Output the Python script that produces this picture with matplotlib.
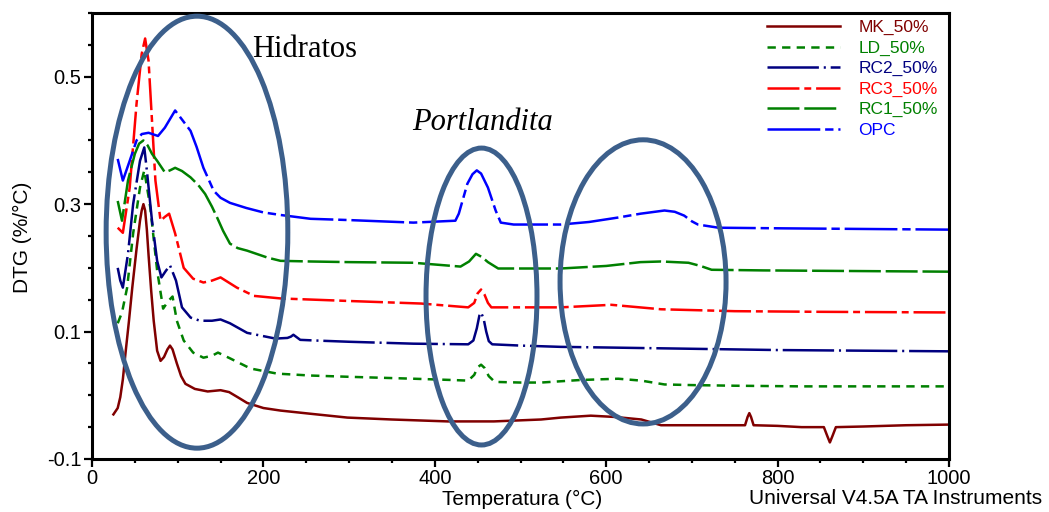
import matplotlib
matplotlib.use("Agg")
import matplotlib.pyplot as plt
from matplotlib.patches import Ellipse
from matplotlib.ticker import MultipleLocator

plt.rcParams['font.family'] = ['Liberation Sans', 'DejaVu Sans']
plt.rcParams['lines.scale_dashes'] = False

# ---------------- data ----------------
mk_t = [25, 30, 33, 36, 39, 43, 47, 52, 56, 58, 60, 62, 64, 66, 69, 72, 76, 80, 84, 88, 91, 94, 99, 104, 109,
        120, 135, 150, 160, 170, 181, 200, 220, 255, 298, 350, 415, 469, 524, 547, 582, 610, 641, 664, 700,
        740, 762, 765, 767, 769, 772, 800, 828, 854, 858, 861, 864, 868, 900, 950, 1000]
mk_v = [-0.030, -0.020, -0.003, 0.025, 0.065, 0.115, 0.169, 0.230, 0.274, 0.290, 0.300, 0.290, 0.260, 0.220,
        0.165, 0.117, 0.070, 0.054, 0.060, 0.072, 0.078, 0.072, 0.050, 0.030, 0.018,
        0.010, 0.006, 0.008, 0.005, -0.003, -0.012, -0.020, -0.024, -0.029, -0.035, -0.038, -0.041, -0.041,
        -0.038, -0.035, -0.032, -0.034, -0.038, -0.047, -0.047,
        -0.047, -0.047, -0.034, -0.028, -0.034, -0.047, -0.048, -0.050, -0.050, -0.064, -0.074, -0.064,
        -0.050, -0.049, -0.047, -0.046]

ld_t = [30, 35, 41, 48, 56, 61, 68, 76, 83, 89, 94, 99, 107, 118, 130, 140, 147, 161, 185, 216, 255, 300,
        375, 420, 439, 446, 450, 454, 458, 463, 470, 500, 524, 570, 614, 641, 668, 700, 750, 828, 900, 1000]
ld_v = [0.113, 0.130, 0.169, 0.254, 0.326, 0.353, 0.295, 0.196, 0.136, 0.148, 0.155, 0.117, 0.086, 0.067,
        0.059, 0.062, 0.067, 0.058, 0.042, 0.034, 0.031, 0.029,
        0.026, 0.024, 0.023, 0.032, 0.044, 0.048, 0.043, 0.030, 0.021, 0.020, 0.020, 0.024, 0.026, 0.023,
        0.017, 0.016, 0.015, 0.014, 0.014, 0.014]

rc2_t = [30, 33, 36, 42, 48, 56, 61, 64, 70, 76, 81, 86, 91, 98, 105, 115, 126, 140, 150, 161, 181, 214,
         228, 232, 235, 238, 243, 260, 300, 375, 439, 445, 449, 452, 454, 457, 460, 463, 467, 500, 547, 600,
         700, 800, 900, 1000]
rc2_v = [0.200, 0.180, 0.169, 0.222, 0.300, 0.368, 0.389, 0.353, 0.274, 0.211, 0.185, 0.195, 0.204, 0.180,
         0.138, 0.122, 0.117, 0.117, 0.119, 0.113, 0.098, 0.089,
         0.090, 0.092, 0.095, 0.092, 0.087, 0.086, 0.084, 0.081, 0.080, 0.086, 0.105, 0.125, 0.130, 0.120,
         0.100, 0.085, 0.080, 0.078, 0.076, 0.075, 0.073, 0.071, 0.070, 0.069]

rc3_t = [30, 36, 44, 52, 58, 62, 66, 70, 74, 80, 85, 90, 97, 107, 118, 130, 140, 150, 169, 189, 220, 300,
         384, 439, 446, 450, 454, 458, 462, 466, 547, 606, 664, 750, 850, 1000]
rc3_v = [0.263, 0.255, 0.326, 0.458, 0.536, 0.560, 0.525, 0.431, 0.337, 0.274, 0.280, 0.285, 0.254, 0.200,
         0.183, 0.177, 0.180, 0.185, 0.169, 0.156, 0.152, 0.148,
         0.144, 0.138, 0.145, 0.160, 0.166, 0.158, 0.145, 0.138, 0.138, 0.142, 0.135, 0.132, 0.131, 0.130]

rc1_t = [30, 35, 42, 50, 55, 60, 65, 70, 76, 85, 91, 97, 105, 115, 124, 132, 140, 146, 153, 161, 170, 181,
         205, 220, 255, 300, 375, 430, 440, 448, 455, 462, 474, 500, 547, 600, 640, 664, 696, 710, 723, 783,
         1000]
rc1_v = [0.305, 0.274, 0.337, 0.379, 0.395, 0.400, 0.392, 0.379, 0.368, 0.350, 0.353, 0.357, 0.352, 0.342,
         0.330, 0.316, 0.296, 0.279, 0.258, 0.238, 0.231, 0.227,
         0.216, 0.211, 0.210, 0.209, 0.208, 0.202, 0.210, 0.222, 0.217, 0.209, 0.199, 0.199, 0.199, 0.203,
         0.209, 0.210, 0.208, 0.203, 0.197, 0.196, 0.194]

opc_t = [30, 36, 44, 52, 58, 66, 77, 85, 97, 106, 115, 122, 130, 142, 150, 161, 180, 200, 220, 255, 300,
         375, 424, 428, 438, 444, 449, 454, 462, 471, 477, 492, 547, 580, 614, 640, 668, 680, 691, 700, 707,
         731, 808, 1000]
opc_v = [0.371, 0.337, 0.368, 0.400, 0.410, 0.412, 0.407, 0.420, 0.447, 0.431, 0.415, 0.390, 0.357, 0.321,
         0.310, 0.302, 0.294, 0.287, 0.283, 0.277, 0.275,
         0.271, 0.274, 0.285, 0.332, 0.347, 0.353, 0.348, 0.326, 0.290, 0.271, 0.268, 0.268, 0.272, 0.279,
         0.285, 0.290, 0.288, 0.282, 0.273, 0.268, 0.263, 0.262, 0.260]

series_labels = ['MK_50%', 'LD_50%', 'RC2_50%', 'RC3_50%', 'RC1_50%', 'OPC']

# ---------------- figure ----------------
W, H = 1049, 512
fig = plt.figure(figsize=(W / 100, H / 100), dpi=100)
ax = fig.add_axes([92 / W, (H - 459) / H, 857 / W, 446 / H])

styles = [
    dict(color='#800000', linestyle='-'),
    dict(color='#008000', dashes=(6, 4.5)),
    dict(color='#000080', dashes=(37, 3.5, 1.5, 3.5)),
    dict(color='#ff0000', dashes=(23, 3.5, 5, 3.5)),
    dict(color='#008000', dashes=(23, 3.5)),
    dict(color='#0000ff', dashes=(38, 3.5, 6, 3.5)),
]
data = [(mk_t, mk_v), (ld_t, ld_v), (rc2_t, rc2_v), (rc3_t, rc3_v), (rc1_t, rc1_v), (opc_t, opc_v)]

handles = []
for (t, v), st, lab in zip(data, styles, series_labels):
    ln, = ax.plot(t, v, linewidth=1.8, label=lab, solid_joinstyle='round', dash_joinstyle='round', **st)
    handles.append(ln)

ax.set_xlim(0, 1000)
ax.set_ylim(-0.1, 0.6)
ax.xaxis.set_major_locator(MultipleLocator(200))
ax.xaxis.set_minor_locator(MultipleLocator(50))
ax.set_yticks([-0.1, 0.1, 0.3, 0.5])
ax.set_yticklabels(['-0.1', '0.1', '0.3', '0.5'])
ax.yaxis.set_minor_locator(MultipleLocator(0.05))
ax.tick_params(which='major', direction='out', length=6, width=1.6, labelsize=14.5, pad=1.5)
ax.tick_params(which='minor', direction='out', length=3, width=1.6)
ax.tick_params(axis='x', which='both', top=False)
ax.tick_params(axis='y', which='both', right=False)
for sp in ax.spines.values():
    sp.set_linewidth(2.2)

# ellipses (annotations)
ecol = '#3c5f8b'
for (cx, cy, ew, eh) in [(122.5, 0.256, 212, 0.678), (454.5, 0.155, 129.5, 0.466), (643, 0.178, 193.7, 0.446)]:
    ax.add_patch(Ellipse((cx, cy), ew, eh, fill=False, edgecolor=ecol, linewidth=3.6, zorder=5, clip_on=False))

ax.text(248.5, 0.531, 'Hidratos', family=['Liberation Serif', 'DejaVu Serif'], fontsize=22,
        ha='center', va='baseline')
ax.text(455.7, 0.4164, 'Portlandita', family=['Liberation Serif', 'DejaVu Serif'], fontsize=22,
        style='italic', ha='center', va='baseline')

# legend
leg = fig.legend(handles=handles, labels=series_labels, loc='upper left',
                 bbox_to_anchor=(767 / W, (H - 20) / H), frameon=False, fontsize=12.5,
                 handlelength=4.2, handletextpad=1.05, labelspacing=0.3, borderpad=0, borderaxespad=0)
for txt, st in zip(leg.get_texts(), styles):
    txt.set_color(st['color'])

# axis labels
fig.text(22 / W, (H - 237) / H, 'DTG (%/°C)', rotation=90, fontsize=15, ha='center', va='center')
fig.text(522 / W, (H - 499) / H, 'Temperatura (°C)', fontsize=15, ha='center', va='center')
fig.text(1042 / W, (H - 499) / H, 'Universal V4.5A TA Instruments', fontsize=15, ha='right', va='center')

fig.savefig('out.png', dpi=100)
